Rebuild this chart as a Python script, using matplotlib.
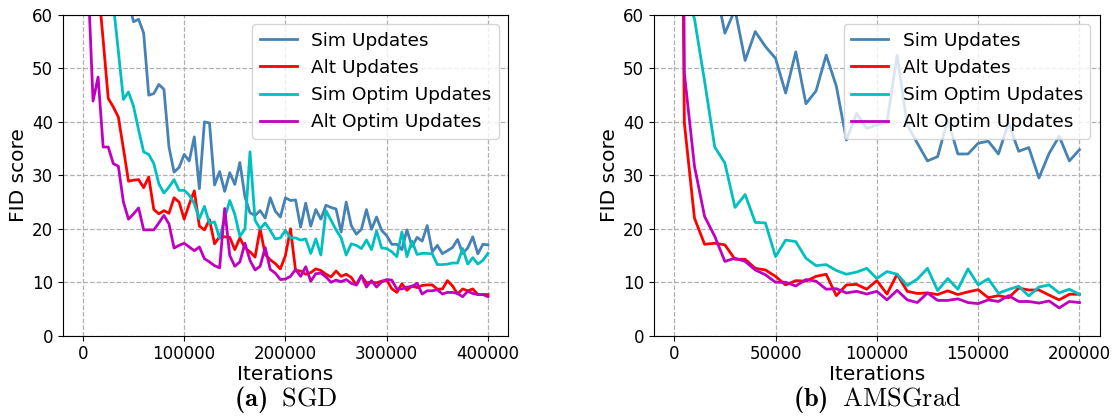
import numpy as np
import matplotlib
matplotlib.use("Agg")
import matplotlib.pyplot as plt
from matplotlib.ticker import MultipleLocator

plt.rcParams['font.family'] = ['DejaVu Sans']
plt.rcParams['mathtext.fontset'] = 'custom'
plt.rcParams['mathtext.rm'] = 'cmr10'
plt.rcParams['mathtext.bf'] = 'cmb10'

# ---------------- SGD (left) ----------------
sgd_iters = np.arange(0, 400001, 5000)
sgd_sim = [300, 220, 170, 140, 120, 105, 92, 80, 70, 62.5,
           58.75, 59.2, 56.6, 45.0, 45.3, 47.0, 46.1, 35.3, 30.6, 31.5,
           33.9, 32.7, 37.2, 27.5, 40.0, 39.8, 28.2, 30.7, 27.0, 30.5,
           28.3, 32.4, 26.0, 23.0, 22.5, 23.4, 22.0, 25.8, 23.3, 22.2,
           25.8, 25.3, 25.4, 20.3, 24.8, 20.5, 23.6, 21.8, 24.4, 24.0,
           23.7, 19.4, 25.0, 20.6, 19.0, 19.9, 23.6, 19.9, 22.2, 19.7,
           18.7, 17.1, 17.1, 16.1, 19.8, 16.7, 18.4, 17.7, 20.6, 15.7,
           16.9, 15.35, 15.9, 16.5, 18.0, 15.4, 16.4, 18.5, 15.3, 17.1,
           17.0]
sgd_alt = [300, 150, 90, 65.8, 55.3, 44.4, 42.8, 40.9, 35.0, 28.9,
           29.1, 29.2, 27.7, 29.7, 23.6, 22.8, 23.4, 22.9, 25.8, 25.0,
           21.8, 24.6, 27.1, 20.5, 19.8, 21.7, 17.2, 18.5, 18.5, 18.4,
           16.1, 18.3, 16.4, 15.7, 14.7, 20.0, 15.2, 14.2, 13.5, 12.5,
           15.0, 20.0, 12.2, 12.1, 11.5, 11.8, 12.5, 12.2, 11.5, 11.0,
           12.1, 11.1, 11.5, 10.9, 9.5, 11.2, 9.9, 10.0, 9.9, 10.2,
           10.4, 8.8, 8.1, 9.7, 8.5, 9.3, 9.0, 9.4, 9.5, 9.5,
           8.7, 8.75, 10.3, 9.3, 7.8, 8.75, 8.4, 8.75, 7.7, 7.7,
           7.7]
sgd_sim_optim = [300, 200, 140, 105, 85, 75, 62.1, 53.2, 44.2, 45.6,
                 42.9, 38.5, 34.4, 33.9, 32.2, 28.4, 26.7, 27.8, 29.2, 27.2,
                 27.2, 26.3, 24.7, 21.9, 24.2, 21.0, 21.3, 18.2, 22.0, 25.3,
                 22.7, 18.6, 20.0, 34.4, 21.6, 20.0, 21.1, 19.7, 18.1, 18.3,
                 19.7, 18.3, 18.3, 17.9, 18.1, 15.4, 18.1, 15.1, 23.4, 21.6,
                 19.8, 18.3, 15.1, 17.2, 16.9, 16.3, 17.9, 16.1, 19.6, 16.4,
                 16.3, 15.7, 14.8, 19.4, 14.8, 17.7, 15.2, 15.4, 15.4, 15.3,
                 13.3, 13.3, 13.4, 13.6, 13.6, 16.3, 13.4, 14.6, 13.4, 14.1,
                 15.4]
sgd_alt_optim = [300, 67, 43.9, 48.4, 35.3, 35.3, 32.2, 31.7, 25.0, 21.8,
                 22.8, 23.9, 19.8, 19.8, 19.8, 21.1, 22.5, 20.9, 16.4, 16.9,
                 17.3, 16.6, 15.9, 16.6, 14.4, 13.8, 13.1, 12.7, 23.8, 15.0,
                 13.0, 13.8, 17.3, 14.1, 12.3, 13.0, 16.5, 12.4, 11.7, 10.5,
                 10.6, 11.1, 12.4, 11.1, 12.9, 10.2, 11.6, 11.7, 11.0, 10.0,
                 10.4, 10.1, 10.5, 9.8, 9.5, 11.25, 9.1, 10.3, 9.1, 10.1,
                 10.5, 10.4, 8.75, 8.75, 9.1, 9.2, 9.8, 7.8, 8.4, 8.4,
                 8.6, 7.8, 8.1, 8.1, 7.9, 7.3, 8.3, 7.9, 7.7, 7.7,
                 7.3]

# ---------------- AMSGrad (right) ----------------
ams_iters = np.arange(0, 200001, 5000)
ams_sim = [250, 150, 100, 80, 66, 56.6, 61.0, 51.5, 56.9, 54.1,
           51.9, 45.4, 53.1, 43.4, 45.8, 52.5, 46.7, 36.6, 41.6, 38.8,
           39.4, 39.9, 52.5, 39.4, 36.0, 32.7, 33.5, 40.4, 34.0, 34.0,
           36.0, 36.4, 34.0, 39.8, 34.5, 35.2, 29.5, 34.1, 37.3, 32.7,
           34.8]
ams_alt = [250, 39.8, 22.0, 17.1, 17.3, 17.0, 14.3, 14.3, 12.6, 12.3,
           11.1, 9.5, 10.3, 10.2, 11.1, 11.5, 7.5, 9.5, 9.6, 8.7,
           10.3, 7.8, 11.5, 8.3, 7.9, 8.0, 7.7, 8.4, 7.7, 8.2,
           8.6, 7.1, 7.5, 7.1, 8.9, 8.55, 8.55, 7.6, 6.7, 7.75,
           7.75]
ams_sim_optim = [250, 65, 59.3, 47.6, 35.3, 32.3, 24.0, 26.4, 21.2, 21.1,
                 14.8, 17.9, 17.6, 14.5, 13.1, 13.3, 12.2, 11.5, 11.9, 12.6,
                 10.7, 12.0, 11.5, 9.4, 10.6, 12.6, 8.45, 10.7, 8.7, 12.5,
                 9.5, 10.65, 7.95, 8.65, 9.25, 7.45, 9.1, 9.5, 8.0, 8.7,
                 7.7]
ams_alt_optim = [400, 49.1, 31.7, 22.3, 18.6, 13.9, 14.5, 13.9, 12.3, 11.4,
                 10.0, 10.0, 9.3, 10.5, 10.2, 8.7, 8.8, 8.0, 8.3, 7.8,
                 8.3, 6.7, 8.5, 6.7, 6.2, 8.0, 6.6, 6.6, 6.9, 6.2,
                 6.0, 6.7, 6.4, 7.5, 6.4, 6.4, 6.1, 6.5, 5.2, 6.4,
                 6.2]

labels = ["Sim Updates", "Alt Updates", "Sim Optim Updates", "Alt Optim Updates"]
colors = ["#4682b4", "#ff0000", "#00bfbf", "#bf00bf"]
y_ticks = [0, 10, 20, 30, 40, 50, 60]
captions = [r"$\mathbf{(a)}\;\;\mathrm{SGD}$", r"$\mathbf{(b)}\;\;\mathrm{AMSGrad}$"]

fig = plt.figure(figsize=(11.15, 4.18), dpi=100)
ax1 = fig.add_axes([0.0562, 0.1969, 0.3996, 0.7672])
ax2 = fig.add_axes([0.5865, 0.1969, 0.3998, 0.7672])

panels = [
    (ax1, sgd_iters, [sgd_sim, sgd_alt, sgd_sim_optim, sgd_alt_optim], 100000),
    (ax2, ams_iters, [ams_sim, ams_alt, ams_sim_optim, ams_alt_optim], 50000),
]

for i, (ax, it, series, step) in enumerate(panels):
    for s, lab, c in zip(series, labels, colors):
        ax.plot(it, s, color=c, lw=2.0, label=lab)
    ax.set_xlim(-0.05 * it[-1], 1.05 * it[-1])
    ax.set_ylim(0, 60)
    ax.set_yticks(y_ticks)
    ax.xaxis.set_major_locator(MultipleLocator(step))
    ax.ticklabel_format(axis='x', style='plain', useOffset=False)
    ax.tick_params(labelsize=12)
    ax.grid(True, linestyle='--', color='#b0b0b0', linewidth=0.9)
    ax.set_xlabel("Iterations", fontsize=14.5, labelpad=1)
    ax.set_ylabel("FID score", fontsize=14.5, labelpad=3)
    ax.legend(loc='upper right', fontsize=13.3)
    pos = ax.get_position()
    fig.text((pos.x0 + pos.x1) / 2, 0.045, captions[i], ha='center', va='center',
             fontsize=19)

fig.savefig("out.png", dpi=100)
